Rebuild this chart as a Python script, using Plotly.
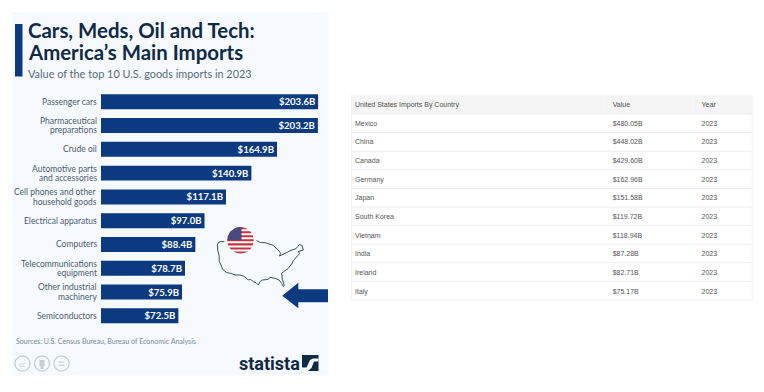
import numpy as np
import plotly.graph_objects as go

W, H = 764, 392

categories = ["Passenger cars", "Pharmaceutical<br>preparations", "Crude oil",
              "Automotive parts<br>and accessories", "Cell phones and other<br>household goods",
              "Electrical apparatus", "Computers", "Telecommunications<br>equipment",
              "Other industrial<br>machinery", "Semiconductors"]
values = [203.6, 203.2, 164.9, 140.9, 117.1, 97.0, 88.4, 78.7, 75.9, 72.5]

table_header = ["United States Imports By Country", "Value", "Year"]
countries = ["Mexico", "China", "Canada", "Germany", "Japan", "South Korea", "Vietnam", "India", "Ireland", "Italy"]
country_values = ["$480.05B", "$448.02B", "$429.60B", "$162.96B", "$151.58B", "$119.72B", "$118.94B", "$87.28B", "$82.71B", "$75.17B"]
years = ["2023"] * 10

NAVY = "#0b3a80"
DARK = "#0f2a46"
GREY = "#4d5c70"
FONT = "Lato"


def px(x):
    return x / W


def py(y):
    return 1 - y / H


def path(points, close=False):
    s = "M" + " L".join(f"{px(a):.5f},{py(b):.5f}" for a, b in points)
    return s + (" Z" if close else "")


shapes = []


def add_shape(d, fill=None, line=None, lw=0, layer="below"):
    shapes.append(dict(type="path", xref="paper", yref="paper", path=d, fillcolor=fill or "rgba(0,0,0,0)",
                       line=dict(color=line or "rgba(0,0,0,0)", width=lw), layer=layer))


def rect(x0, y0, x1, y1, fill, layer="below"):
    add_shape(path([(x0, y0), (x1, y0), (x1, y1), (x0, y1)], True), fill=fill, layer=layer)


# panel + title accent
rect(12, 12, 328.5, 375.5, "#f6f9fd")
rect(15, 24, 22.5, 76.5, NAVY)

# USA outline (crop coordinates converted to page pixels)
outline = [(43, 65), (30, 65), (25, 68), (22, 75), (23, 90), (27, 105), (28, 125), (33, 135), (38, 148), (50, 158),
           (62, 160), (75, 165), (90, 165), (100, 168), (110, 175), (115, 180), (122, 178), (130, 185), (138, 188),
           (145, 195), (150, 185), (158, 180), (175, 178), (180, 172), (195, 175), (207, 180), (215, 190),
           (220, 200), (223, 196), (217, 178), (215, 160), (225, 152), (235, 145), (245, 132), (250, 122), (262, 108),
           (270, 100), (264, 95), (280, 90), (276, 76), (268, 74), (258, 86), (240, 92), (232, 97), (215, 105),
           (208, 108), (212, 100), (205, 90), (195, 82), (190, 76), (178, 72), (165, 68), (152, 68), (140, 62)]
add_shape(path([(210 + a / 3, 220 + b / 3) for a, b in outline]), line="#3b4d66", lw=1, layer="above")

# flag
cx, cy, r = 240.5, 240.3, 13.2
t = np.linspace(0, 2 * np.pi, 60)
add_shape(path(list(zip(cx + r * np.cos(t), cy + r * np.sin(t))), True), fill="#ffffff", layer="above")
for i in range(7):
    top = cy - r + i * 2 * r / 6.5
    bottom = min(top + r / 6.5, cy + r)
    ys = np.linspace(top, bottom, 6)
    half = np.sqrt(np.maximum(r * r - (ys - cy) ** 2, 0))
    pts = list(zip(cx - half, ys)) + list(zip(cx + half[::-1], ys[::-1]))
    add_shape(path(pts, True), fill="#c8313e", layer="above")
ang = np.linspace(np.pi, 1.5 * np.pi, 20)
canton = list(zip(cx + r * np.cos(ang), cy + r * np.sin(ang))) + [(cx + 1, cy - r), (cx + 1, cy), (cx - r, cy)]
add_shape(path(canton, True), fill="#4a4a80", layer="above")

# arrow
add_shape(path([(282.3, 295.7), (298.3, 282.7), (298.3, 289.3), (328, 289.3), (328, 302.3), (298.3, 302.3),
                (298.3, 308.3)], True), fill=NAVY, layer="above")

# statista logo mark
rect(302, 355, 318.5, 371, DARK, layer="above")
add_shape(path([(302, 367.5), (306.5, 367.5), (310, 360), (313, 358.5), (318.5, 358.5), (318.5, 361.5), (314, 361.5),
                (311.5, 368), (308, 371), (302, 371)], True), fill="#f6f9fd", layer="above")

# cc icons
for c in (22.5, 42, 61.5):
    t2 = np.linspace(0, 2 * np.pi, 40)
    add_shape(path(list(zip(c + 7.5 * np.cos(t2), 363.5 + 7.5 * np.sin(t2))), True), line="#c3ccd8", lw=1.2, layer="above")
add_shape(path([(39.5, 360), (44.5, 360), (44.5, 366), (43.5, 366), (43.5, 369), (40.5, 369), (40.5, 366), (39.5, 366)], True),
          fill="#c3ccd8", layer="above")
rect(58.5, 361.5, 64.5, 362.6, "#c3ccd8", layer="above")
rect(58.5, 364.6, 64.5, 365.7, "#c3ccd8", layer="above")

# table masks, header band and row rules
rect(345, 92, 351, 302, "#ffffff", layer="above")
rect(345, 92, 754, 95, "#ffffff", layer="above")
rect(351, 112, 752.5, 114, "#f5f5f5", layer="above")
for i in range(11):
    yy = 114 + i * 18.6
    rect(351, yy - 0.5, 752.5, yy + 0.5, "#eeeeee", layer="above")
rect(351, 95, 351.7, 300.5, "#eeeeee", layer="above")
rect(751.8, 95, 752.5, 300.5, "#eeeeee", layer="above")


def note(x, y, text, size, color, anchor="left", family=FONT):
    return dict(xref="paper", yref="paper", x=px(x), y=py(y), text=text, showarrow=False, xanchor=anchor,
                yanchor="middle", align=anchor, font=dict(family=family, size=size, color=color))


annotations = [
    note(25.5, 30, "<b>Cars, Meds, Oil and Tech:</b>", 20.4, DARK),
    note(25.5, 52.3, "<b>America’s Main Imports</b>", 20.4, DARK),
    note(25.5, 73, "Value of the top 10 U.S. goods imports in 2023", 10.9, "#5a6b80"),
    note(13.5, 341.5, "Sources: U.S. Census Bureau, Bureau of Economic Analysis", 7.05, "#7d8a9c"),
    note(237, 363, "<b>statista</b>", 18, DARK, family="Roboto"),
    note(22.5, 363.5, "cc", 7, "#c3ccd8", anchor="center"),
]

# category labels, one text per line so the tight line spacing can be kept
for cat in categories:
    lines = cat.split("<br>")
    for i, line in enumerate(lines):
        annotations.append(dict(
            xref="x", yref="y", x=0, y=cat, xanchor="right", yanchor="middle", align="right", xshift=-2,
            yshift=(len(lines) - 1) / 2 * 9.2 - i * 9.2, text=line, showarrow=False,
            font=dict(family=FONT, size=8.5, color=GREY)))

fig = go.Figure()
fig.add_trace(go.Bar(
    x=values, y=categories, orientation="h", width=0.63,
    marker=dict(color=NAVY, line=dict(width=0)),
    texttemplate="<b>$%{x:.1f}B</b>", textposition="inside", insidetextanchor="end", textangle=0,
    cliponaxis=False, constraintext="none",
    textfont=dict(family=FONT, size=9.6, color="#ffffff"),
    hoverinfo="skip", showlegend=False,
))
fig.add_trace(go.Table(
    domain=dict(x=[px(347), px(752.5)], y=[py(301), py(93.5)]),
    columnwidth=[258, 89, 58.5],
    header=dict(values=table_header, height=19, align="left", fill_color="#f5f5f5",
                line=dict(color="#ffffff", width=0),
                font=dict(family="Liberation Sans", size=7, color="#505050")),
    cells=dict(values=[countries, country_values, years], height=18.65, align="left", fill_color="#ffffff",
               line=dict(color="#ffffff", width=0),
               font=dict(family="Liberation Sans", size=7, color="#555555")),
))
fig.update_layout(
    width=W, height=H, margin=dict(l=0, r=0, t=0, b=0), paper_bgcolor="#ffffff", plot_bgcolor="rgba(0,0,0,0)",
    showlegend=False, shapes=shapes, annotations=annotations,
    xaxis=dict(domain=[px(101), px(318.3)], range=[0, 203.6], visible=False, fixedrange=True),
    yaxis=dict(domain=[py(327.7), py(89.9)], autorange="reversed", type="category", categoryorder="array",
               categoryarray=categories, showline=False, showgrid=False, ticks="", showticklabels=False,
               fixedrange=True),
)
fig.write_html("out.html", config=dict(displayModeBar=False),
               post_script="document.body.style.margin='0';document.body.style.overflow='hidden';")
